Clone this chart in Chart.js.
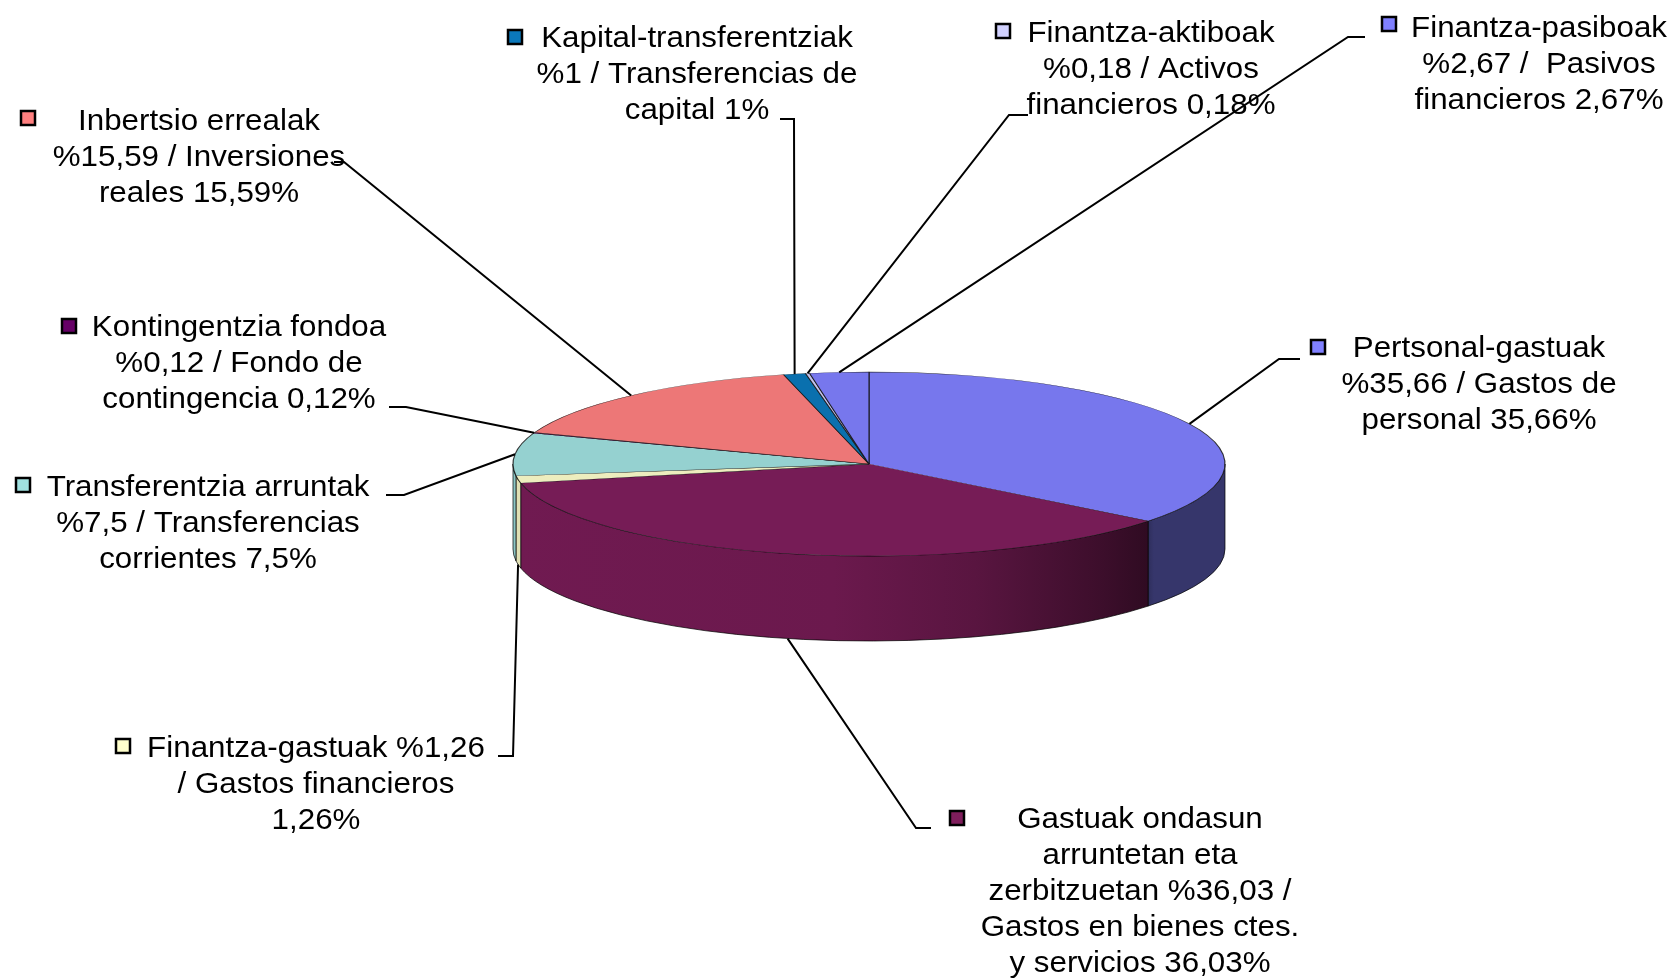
<!DOCTYPE html>
<html>
<head>
<meta charset="utf-8">
<script src="https://cdn.jsdelivr.net/npm/chart.js@4.4.0/dist/chart.umd.min.js"></script>
<style>
  html, body { margin: 0; padding: 0; background: #fff; }
  canvas { display: block; }
</style>
</head>
<body>
<canvas id="pie" width="1675" height="979"></canvas>
<script>
// data
var categories = ['Pertsonal-gastuak', 'Gastuak ondasun arruntetan eta zerbitzuetan', 'Finantza-gastuak',
    'Transferentzia arruntak', 'Kontingentzia fondoa', 'Inbertsio errealak',
    'Kapital-transferentziak', 'Finantza-aktiboak', 'Finantza-pasiboak'];
var values = [35.66, 36.03, 1.26, 7.5, 0.12, 15.59, 1, 0.18, 2.67];
var labelLines = [
    ['Pertsonal-gastuak', '%35,66 / Gastos de', 'personal 35,66%'],
    ['Gastuak ondasun', 'arruntetan eta', 'zerbitzuetan %36,03 /', 'Gastos en bienes ctes.', 'y servicios 36,03%'],
    ['Finantza-gastuak %1,26', '/ Gastos financieros', '1,26%'],
    ['Transferentzia arruntak', '%7,5 / Transferencias', 'corrientes 7,5%'],
    ['Kontingentzia fondoa', '%0,12 / Fondo de', 'contingencia 0,12%'],
    ['Inbertsio errealak', '%15,59 / Inversiones', 'reales 15,59%'],
    ['Kapital-transferentziak', '%1 / Transferencias de', 'capital 1%'],
    ['Finantza-aktiboak', '%0,18 / Activos', 'financieros 0,18%'],
    ['Finantza-pasiboak', '%2,67 /  Pasivos', 'financieros 2,67%']
];
var colors = ['#8080ff', '#7f1e5c', '#ffffcc', '#a0e1e0', '#660066', '#ff8080', '#0b78bb', '#d2d2ff', '#8080ff'];

// label placement: text centre x, first line y, marker centre, leader elbow, leader end
var labelLayout = [
    {x: 1479, y: 349, mx: 1318, my: 347, ex: 1279, ey: 359, tx: 1300},
    {x: 1140, y: 820, mx: 957,  my: 818, ex: 916,  ey: 828, tx: 931},
    {x: 316,  y: 749, mx: 123,  my: 746, ex: 513,  ey: 756, tx: 498},
    {x: 208,  y: 488, mx: 23,   my: 485, ex: 404,  ey: 495, tx: 386},
    {x: 239,  y: 328, mx: 69,   my: 326, ex: 406,  ey: 407, tx: 389},
    {x: 199,  y: 122, mx: 28,   my: 118, ex: 344,  ey: 162, tx: 334},
    {x: 697,  y: 39,  mx: 515,  my: 37,  ex: 794,  ey: 119, tx: 780},
    {x: 1151, y: 34,  mx: 1003, my: 31,  ex: 1009, ey: 115, tx: 1028},
    {x: 1539, y: 29,  mx: 1389, my: 24,  ex: 1348, ey: 37,  tx: 1365}
];

var TILT = 92 / 356;
var DEPTH = 85;
var FONT = '29px "Liberation Sans", Arial, sans-serif';
var STRETCH = 1.08;
var LINE_H = 36;

function shade(hex, f) {
    var n = parseInt(hex.slice(1), 16);
    var r = Math.round(((n >> 16) & 255) * f);
    var g = Math.round(((n >> 8) & 255) * f);
    var b = Math.round((n & 255) * f);
    return 'rgb(' + r + ',' + g + ',' + b + ')';
}

var topColors = colors.map(function (c) { return shade(c, 0.93); });

// side walls under the tilted pie, then squash the top faces
var pie3d = {
    id: 'pie3d',
    beforeDatasetsDraw: function (chart) {
        var ctx = chart.ctx;
        var arcs = chart.getDatasetMeta(0).data;
        var a0 = arcs[0];
        var cx = a0.x, cy = a0.y, rx = a0.outerRadius, ry = rx * TILT;
        ctx.save();
        arcs.forEach(function (arc, i) {
            var s = Math.max(arc.startAngle, 0);
            var e = Math.min(arc.endAngle, Math.PI);
            if (e <= s) return;
            var g = ctx.createLinearGradient(cx - rx, 0, cx + rx, 0);
            g.addColorStop(0, shade(colors[i], 0.88));
            g.addColorStop(0.45, shade(colors[i], 0.84));
            g.addColorStop(0.65, shade(colors[i], 0.7));
            g.addColorStop(0.83, shade(colors[i], 0.47));
            g.addColorStop(0.893, shade(colors[i], 0.37));
            g.addColorStop(0.9, shade(colors[i], 0.42));
            g.addColorStop(1, shade(colors[i], 0.42));
            ctx.beginPath();
            ctx.ellipse(cx, cy, rx, ry, 0, s, e);
            ctx.ellipse(cx, cy + DEPTH, rx, ry, 0, e, s, true);
            ctx.closePath();
            ctx.fillStyle = g;
            ctx.fill();
            ctx.lineWidth = 1;
            ctx.strokeStyle = 'rgba(0,0,0,0.7)';
            ctx.stroke();
        });
        ctx.restore();
        ctx.save();
        ctx.translate(cx, cy);
        ctx.scale(1, TILT);
        ctx.translate(-cx, -cy);
    },
    afterDatasetsDraw: function (chart) {
        chart.ctx.restore();
    }
};

// callout labels with leader lines and colour keys
var callouts = {
    id: 'callouts',
    afterDraw: function (chart) {
        var ctx = chart.ctx;
        var arcs = chart.getDatasetMeta(0).data;
        ctx.save();
        arcs.forEach(function (arc, i) {
            var L = labelLayout[i];
            var m = (arc.startAngle + arc.endAngle) / 2;
            var px = arc.x + arc.outerRadius * Math.cos(m);
            var py = arc.y + arc.outerRadius * TILT * Math.sin(m) + (Math.sin(m) > 0 ? DEPTH : 0);
            ctx.beginPath();
            ctx.moveTo(px, py);
            ctx.lineTo(L.ex, L.ey);
            ctx.lineTo(L.tx, L.ey);
            ctx.lineWidth = 2;
            ctx.strokeStyle = '#000';
            ctx.stroke();

            ctx.fillStyle = colors[i];
            ctx.fillRect(L.mx - 7, L.my - 7, 14, 14);
            ctx.lineWidth = 2.5;
            ctx.strokeRect(L.mx - 7, L.my - 7, 14, 14);

            ctx.fillStyle = '#000';
            ctx.font = FONT;
            ctx.textAlign = 'center';
            ctx.textBaseline = 'middle';
            labelLines[i].forEach(function (line, k) {
                ctx.save();
                ctx.translate(L.x, L.y + k * LINE_H);
                ctx.scale(STRETCH, 1);
                ctx.fillText(line, 0, 0);
                ctx.restore();
            });
        });
        ctx.restore();
    }
};

new Chart(document.getElementById('pie'), {
    type: 'pie',
    data: {
        labels: categories,
        datasets: [{
            data: values,
            backgroundColor: topColors,
            borderColor: 'rgba(20,20,20,0.85)',
            borderWidth: 1.2,
            radius: 356,
            hoverOffset: 0
        }]
    },
    options: {
        responsive: false,
        animation: false,
        events: [],
        layout: { padding: { left: 63, right: 0, top: 0, bottom: 51 } },
        plugins: {
            legend: { display: false },
            tooltip: { enabled: false }
        }
    },
    plugins: [pie3d, callouts]
});
</script>
</body>
</html>
